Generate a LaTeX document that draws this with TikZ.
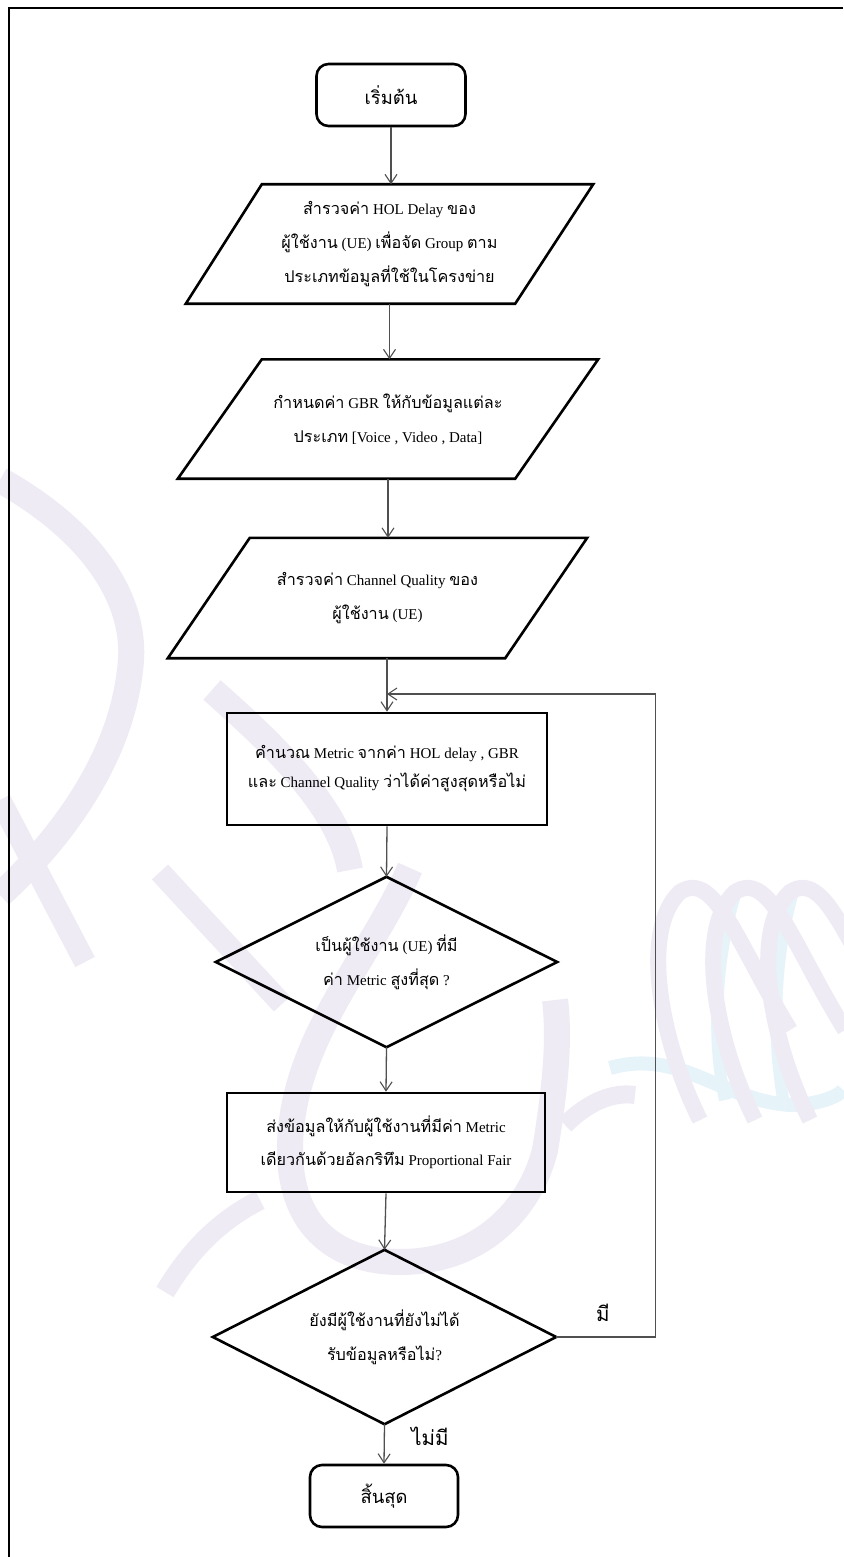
\documentclass[tikz,border=0pt]{standalone}
\usepackage{fontspec}
\setmainfont{Liberation Serif}
\newfontfamily\thaifont[Script=Thai,Scale=1.08]{Loma}
\usetikzlibrary{arrows.meta}
\newcommand{\tht}[1]{{\thaifont #1}}

\definecolor{wmlav}{HTML}{EFEBF5}
\definecolor{wmblue}{HTML}{E6F3F9}
\definecolor{connline}{HTML}{505050}

\tikzset{
  shapeline/.style={draw=black, line width=2.6pt, line join=miter},
  conn/.style={draw=connline, line width=1.3pt,
    -{Straight Barb[length=9pt,width=12pt,line width=1.1pt]}},
  term/.style={draw=black, line width=2.6pt, rounded corners=12pt,
    minimum width=149pt, minimum height=62pt, inner sep=0pt,
    font=\fontsize{17}{20}\selectfont\thaifont},
  slot/.style={inner sep=0pt, align=center,
    font=\fontsize{15}{34}\selectfont},
  lbl/.style={inner sep=0pt, font=\fontsize{19}{22}\selectfont\thaifont},
  wm/.style={line width=26pt, line cap=butt, draw=wmlav},
}

\begin{document}
\begin{tikzpicture}[x=1pt,y=-1pt]
\useasboundingbox (0,0) rectangle (843,1557);
\fill[white] (0,0) rectangle (843,1557);

% faint background logo
\draw[wm] (0,480) .. controls (90,530) and (140,600) .. (130,670)
  .. controls (120,760) and (60,840) .. (0,895);
\draw[wm, line width=22pt] (0,800) -- (85,962);
\draw[wm] (212,690) .. controls (280,750) and (340,810) .. (350,870);
\draw[wm, line width=22pt] (160,872) -- (282,1004);
\draw[wm] (410,868) .. controls (370,960) and (290,1040) .. (290,1150)
  .. controls (290,1230) and (340,1262) .. (400,1262)
  .. controls (480,1262) and (530,1210) .. (545,1150)
  .. controls (555,1090) and (560,1040) .. (555,1000);
\draw[wm, line width=20pt] (165,1292) .. controls (190,1250) and (220,1220) .. (260,1200);
\draw[wm, line width=18pt] (565,1125) .. controls (590,1100) and (615,1092) .. (635,1095);
\draw[draw=wmblue, line width=14pt]
  (610,1068) .. controls (680,1048) and (720,1100) .. (790,1105)
  .. controls (820,1105) and (840,1095) .. (843,1090);
\draw[draw=wmblue, line width=12pt] (735,895) .. controls (715,960) and (712,1040) .. (725,1100);
\draw[draw=wmblue, line width=12pt] (795,885) .. controls (775,950) and (770,1030) .. (785,1110);
\foreach \dx in {0,55,110} {
  \draw[draw=wmlav, line width=16pt]
    (700+\dx,1120) .. controls (660+\dx,1040) and (640+\dx,930) .. (680+\dx,892)
    .. controls (715+\dx,870) and (735+\dx,940) .. (790+\dx,1030);
}

% page frame
\draw[line width=2pt] (843,8) -- (9,8) -- (9,1557);

% flow nodes
\node[term] (start) at (391,95) {เริ่มต้น};

\node[slot, minimum width=407pt, minimum height=119pt] (p1) at (389.5,244)
  {\tht{สำรวจค่า} HOL Delay \tht{ของ}\\
   \tht{ผู้ใช้งาน} (UE) \tht{เพื่อจัด} Group \tht{ตาม}\\
   \tht{ประเภทข้อมูลที่ใช้ในโครงข่าย}};
\draw[shapeline] ([xshift=76pt]p1.north west) -- (p1.north east)
  -- ([xshift=-78pt]p1.south east) -- (p1.south west) -- cycle;

\node[slot, minimum width=420pt, minimum height=119pt] (p2) at (388,419)
  {\tht{กำหนดค่า} GBR \tht{ให้กับข้อมูลแต่ละ}\\
   \tht{ประเภท} [Voice , Video , Data]};
\draw[shapeline] ([xshift=84pt]p2.north west) -- (p2.north east)
  -- ([xshift=-83pt]p2.south east) -- (p2.south west) -- cycle;

\node[slot, minimum width=419pt, minimum height=120pt] (p3) at (377.5,598)
  {\tht{สำรวจค่า} Channel Quality \tht{ของ}\\
   \tht{ผู้ใช้งาน} (UE)};
\draw[shapeline] ([xshift=82pt]p3.north west) -- (p3.north east)
  -- ([xshift=-82pt]p3.south east) -- (p3.south west) -- cycle;

\node[slot, draw=black, line width=2.6pt, minimum width=320pt, minimum height=112pt,
  font=\fontsize{15}{29}\selectfont] (r1) at (387,769)
  {\tht{คำนวณ} Metric \tht{จากค่า} HOL delay , GBR\\
   \tht{และ} Channel Quality \tht{ว่าได้ค่าสูงสุดหรือไม่}};

\node[slot, minimum width=341pt, minimum height=170pt] (d1) at (386.5,962)
  {\tht{เป็นผู้ใช้งาน} (UE) \tht{ที่มี}\\
   \tht{ค่า} Metric \tht{สูงที่สุด} ?};
\draw[shapeline] (d1.north) -- (d1.east) -- (d1.south) -- (d1.west) -- cycle;

\node[slot, draw=black, line width=2.6pt, minimum width=318pt, minimum height=99pt,
  font=\fontsize{15}{33}\selectfont] (r2) at (386,1142.5)
  {\tht{ส่งข้อมูลให้กับผู้ใช้งานที่มีค่า} Metric\\
   \tht{เดียวกันด้วยอัลกริทึม} Proportional Fair};

\node[slot, minimum width=343pt, minimum height=174pt] (d2) at (384.5,1337)
  {\tht{ยังมีผู้ใช้งานที่ยังไม่ได้}\\
   \tht{รับข้อมูลหรือไม่}?};
\draw[shapeline] (d2.north) -- (d2.east) -- (d2.south) -- (d2.west) -- cycle;

\node[term, minimum width=148pt] (stop) at (384,1496) {สิ้นสุด};

% branch labels
\node[lbl] (yes) at (603,1313) {มี};
\node[lbl] (no) at (430,1436) {ไม่มี};

% connectors
\coordinate (join) at (387,694);
\draw[conn] (start.south) -- (start.south |- p1.north);
\draw[conn] (p1.south) -- (p1.south |- p2.north);
\draw[conn] (p2.south) -- (p2.south |- p3.north);
\draw[conn] (r1.north |- p3.south) -- (r1.north);
\draw[conn] (r1.south) -- (d1.north);
\draw[conn] (d1.south) -- (r2.north);
\draw[conn] (r2.south) -- (d2.north);
\draw[conn] (d2.south) -- (stop.north);
\draw[conn] (d2.east) -- ++(99,0) |- (join);
\end{tikzpicture}
\end{document}
